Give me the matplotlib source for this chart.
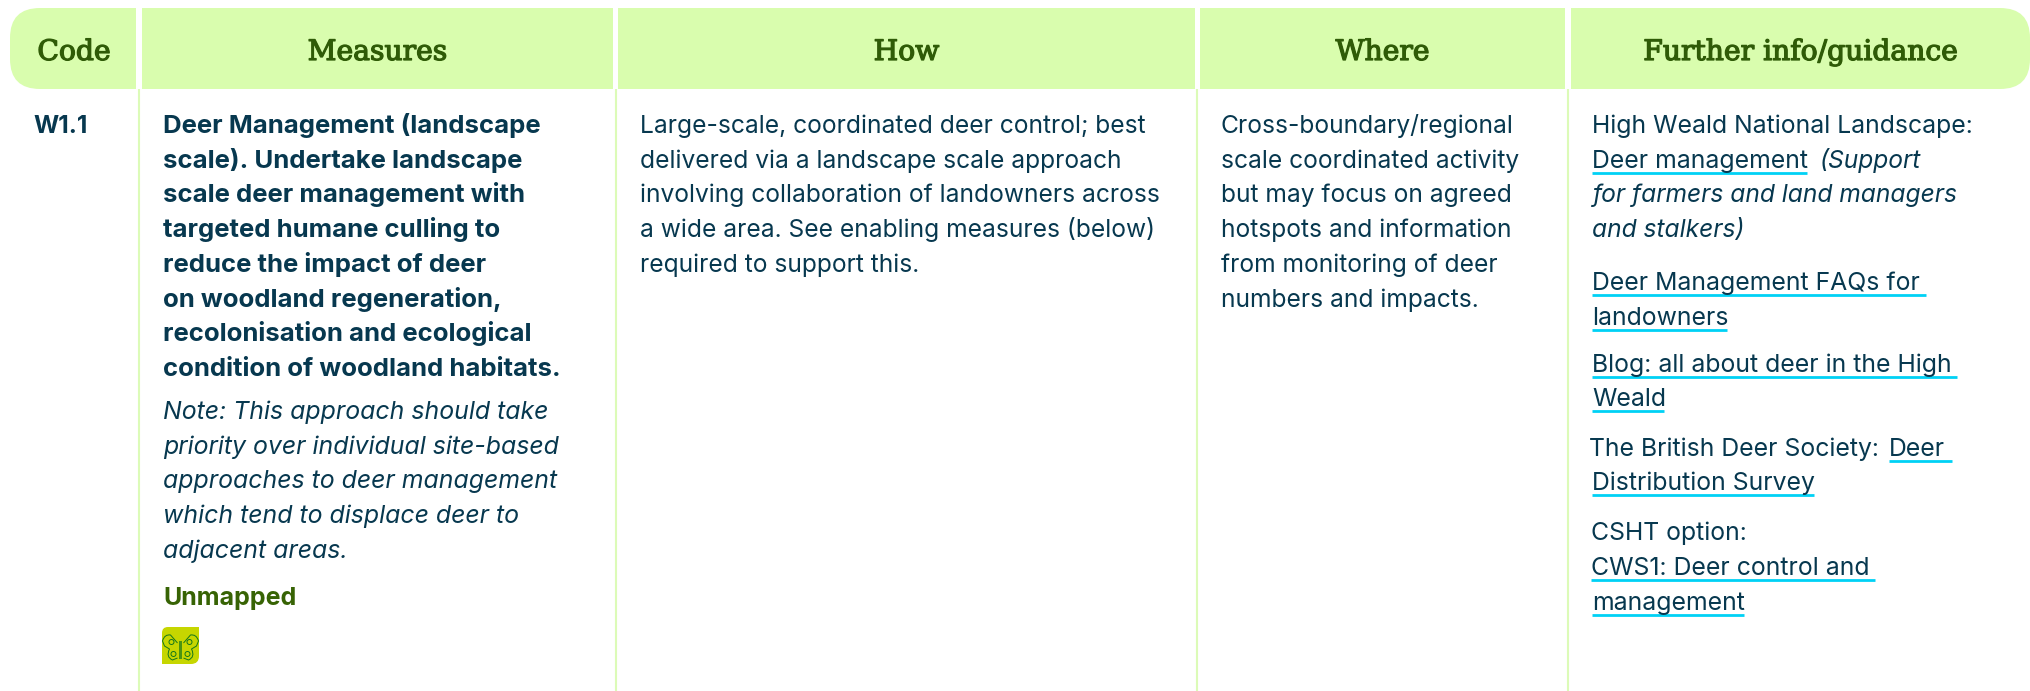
import matplotlib
matplotlib.use('Agg')
import matplotlib.pyplot as plt
import matplotlib.patheffects as pe
from matplotlib.patches import PathPatch, Rectangle, Ellipse
from matplotlib.path import Path
from matplotlib.font_manager import FontProperties
from matplotlib.textpath import TextPath

W, H = 2031, 691

# table content
headers = ['Code', 'Measures', 'How', 'Where', 'Further info/guidance']
code = 'W1.1'
measures_bold = ['Deer Management (landscape', 'scale). Undertake landscape', 'scale deer management with',
                 'targeted humane culling to', 'reduce the impact of deer', 'on woodland regeneration,',
                 'recolonisation and ecological', 'condition of woodland habitats.']
measures_note = ['Note: This approach should take', 'priority over individual site-based',
                 'approaches to deer management', 'which tend to displace deer to',
                 'adjacent areas.']
unmapped = 'Unmapped'
how = ['Large-scale, coordinated deer control; best', 'delivered via a landscape scale approach',
       'involving collaboration of landowners across', 'a wide area. See enabling measures (below)',
       'required to support this.']
where = ['Cross-boundary/regional', 'scale coordinated activity', 'but may focus on agreed',
         'hotspots and information', 'from monitoring of deer', 'numbers and impacts.']

# pixel layout
header_spans = [(10, 136), (142, 613), (618, 1195), (1200, 1565), (1571, 2030)]
rule_x = [139, 616, 1197, 1568]
GREEN = '#d9fdae'
HEAD = '#2f5b07'
INK = '#07384f'
RULE = '#dcfbb8'
CYAN = '#00d1f5'
BODY = 17.7
BOLD = 18.5
ITALIC = 17.9
INFO = 17.85
LINE = 34.7
FONT = 'Inter'

fig = plt.figure(figsize=(W / 100, H / 100), dpi=100)
ax = fig.add_axes([0, 0, 1, 1])
ax.set_xlim(0, W)
ax.set_ylim(H, 0)
ax.axis('off')


def rounded_bar(x0, x1, y0, y1, left=0, right=0):
    verts = [(x0 + left, y0), (x1 - right, y0)]
    codes = [Path.MOVETO, Path.LINETO]
    if right:
        verts += [(x1, y0), (x1, y0 + right), (x1, y1 - right), (x1, y1), (x1 - right, y1)]
        codes += [Path.CURVE3, Path.CURVE3, Path.LINETO, Path.CURVE3, Path.CURVE3]
    else:
        verts += [(x1, y0), (x1, y1)]
        codes += [Path.LINETO, Path.LINETO]
    verts.append((x0 + left, y1))
    codes.append(Path.LINETO)
    if left:
        verts += [(x0, y1), (x0, y1 - left), (x0, y0 + left), (x0, y0), (x0 + left, y0)]
        codes += [Path.CURVE3, Path.CURVE3, Path.LINETO, Path.CURVE3, Path.CURVE3]
    else:
        verts += [(x0, y1), (x0, y0)]
        codes += [Path.LINETO, Path.LINETO]
    ax.add_patch(PathPatch(Path(verts, codes), fc=GREEN, ec='none'))


for i, (x0, x1) in enumerate(header_spans):
    rounded_bar(x0, x1, 8, 89, left=30 if i == 0 else 0, right=30 if i == 4 else 0)
    cx = 74 if i == 0 else (x0 + x1) / 2
    t = ax.text(cx, 60, headers[i], family='DejaVu Serif', fontsize=20.3,
                color=HEAD, ha='center', va='baseline')
    t.set_path_effects([pe.withStroke(linewidth=0.9, foreground=HEAD)])

for x in rule_x:
    ax.plot([x, x], [89, H], color=RULE, lw=1.5, solid_capstyle='butt')


def line(x, y, s, weight='normal', style='normal', color=INK, size=BODY):
    ax.text(x, y, s, family=FONT, weight=weight, style=style, fontsize=size,
            color=color, ha='left', va='baseline')


def link(x, y, s, trail=0):
    line(x, y, s, size=INFO)
    fp = FontProperties(family=FONT, size=INFO)
    w = TextPath((0, 0), s, prop=fp).get_extents().x1 * 100 / 72 + trail
    ax.plot([x, x + w], [y + 5, y + 5], color=CYAN, lw=2, solid_capstyle='butt')


line(33, 133, code, weight='bold', size=17.5)

for i, s in enumerate(measures_bold):
    line(163, 133 + i * LINE, s, weight='bold', size=BOLD)
for i, s in enumerate(measures_note):
    line(163, 419 + i * LINE, s, style='italic', size=ITALIC)
line(163, 605, unmapped, weight='bold', color='#376304', size=18)

for i, s in enumerate(how):
    line(640, 133 + i * LINE, s)
for i, s in enumerate(where):
    line(1221, 133 + i * LINE, s)

# further info column
FX = 1592
line(FX, 133, 'High Weald National Landscape:', size=INFO)
link(FX, 168, 'Deer management')
line(FX + 228, 168, '(Support', style='italic')
line(FX, 202, 'for farmers and land managers', style='italic')
line(FX, 237, 'and stalkers)', style='italic')
link(FX, 290, 'Deer Management FAQs for', trail=7)
link(FX, 325, 'landowners')
link(FX, 372, 'Blog: all about deer in the High', trail=7)
link(FX, 406, 'Weald')
line(FX - 3, 456, 'The British Deer Society:', size=INFO)
link(FX + 297, 456, 'Deer', trail=7)
link(FX, 490, 'Distribution Survey')
line(FX - 1, 540, 'CSHT option:', size=INFO)
link(FX - 1, 575, 'CWS1: Deer control and', trail=7)
link(FX, 610, 'management')

# butterfly icon
ix0, ix1, iy0, iy1 = 162, 199, 627, 664
ax.add_patch(PathPatch(Path(
    [(ix0 + 6, iy0), (ix1, iy0), (ix1, iy1 - 8), (ix1, iy1), (ix1 - 8, iy1), (ix0, iy1), (ix0, iy0 + 6), (ix0, iy0), (ix0 + 6, iy0)],
    [Path.MOVETO, Path.LINETO, Path.LINETO, Path.CURVE3, Path.CURVE3, Path.LINETO, Path.LINETO, Path.CURVE3, Path.CURVE3]),
    fc='#c6d600', ec='none'))
cx = (ix0 + ix1) / 2
dark = '#15771b'
ax.add_patch(Rectangle((cx - 1.5, iy0 + 14), 3, 18, fc=dark, ec='none', alpha=0.7))
for sgn in (-1, 1):
    wing = Path([(cx + sgn * 3, iy0 + 16), (cx + sgn * 10, iy0 + 8), (cx + sgn * 16, iy0 + 7),
                 (cx + sgn * 18, iy0 + 14), (cx + sgn * 16, iy0 + 19), (cx + sgn * 11, iy0 + 22),
                 (cx + sgn * 15, iy0 + 30), (cx + sgn * 8, iy0 + 33), (cx + sgn * 3, iy0 + 31)],
                [Path.MOVETO, Path.LINETO, Path.CURVE3, Path.CURVE3, Path.LINETO, Path.LINETO,
                 Path.CURVE3, Path.CURVE3, Path.LINETO])
    ax.add_patch(PathPatch(wing, fc='none', ec=dark, lw=0.7))
    ax.add_patch(Ellipse((cx + sgn * 9, iy0 + 15), 5, 5, fc='none', ec=dark, lw=0.7))
    ax.add_patch(Ellipse((cx + sgn * 7, iy0 + 27), 5, 5, fc='none', ec=dark, lw=0.7))

fig.savefig('out.png', dpi=100)
